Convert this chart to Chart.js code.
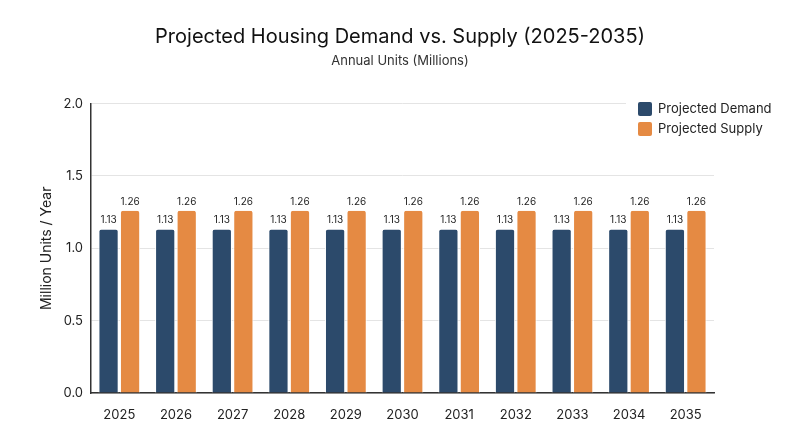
<!DOCTYPE html>
<html>
<head>
<meta charset="utf-8">
<script src="https://cdn.jsdelivr.net/npm/chart.js@4.4.1/dist/chart.umd.min.js"></script>
<style>
  html, body { margin: 0; padding: 0; background: #ffffff; }
  #wrap { width: 800px; height: 447px; }
</style>
</head>
<body>
<div id="wrap"><canvas id="housingChart"></canvas></div>
<script>
const years = ['2025', '2026', '2027', '2028', '2029', '2030', '2031', '2032', '2033', '2034', '2035'];
const demandValues = [1.13, 1.13, 1.13, 1.13, 1.13, 1.13, 1.13, 1.13, 1.13, 1.13, 1.13];
const supplyValues = [1.26, 1.26, 1.26, 1.26, 1.26, 1.26, 1.26, 1.26, 1.26, 1.26, 1.26];
const seriesNames = ['Projected Demand', 'Projected Supply'];
const seriesColors = ['#2c4a6b', '#e58a43'];

const FONT = "'Inter', 'Noto Sans', sans-serif";

/** Value labels above each bar */
const barLabels = {
  id: 'barLabels',
  afterDatasetsDraw(chart) {
    const ctx = chart.ctx;
    ctx.save();
    ctx.font = '10px ' + FONT;
    ctx.fillStyle = '#222222';
    ctx.textAlign = 'center';
    ctx.textBaseline = 'bottom';
    chart.data.datasets.forEach((ds, i) => {
      chart.getDatasetMeta(i).data.forEach((bar, j) => {
        ctx.fillText(ds.data[j].toFixed(2), bar.x, bar.y - 4);
      });
    });
    ctx.restore();
  }
};

/** Legend box drawn over the top-right of the plot */
const cornerLegend = {
  id: 'cornerLegend',
  afterDraw(chart) {
    const ctx = chart.ctx;
    const x0 = 626, y0 = 96;
    ctx.save();
    ctx.fillStyle = '#ffffff';
    ctx.fillRect(x0, y0, 170, 46);
    ctx.font = '13px ' + FONT;
    ctx.textBaseline = 'middle';
    ctx.textAlign = 'left';
    seriesNames.forEach((name, i) => {
      const by = y0 + 6 + i * 20;
      ctx.fillStyle = seriesColors[i];
      ctx.beginPath();
      ctx.roundRect(x0 + 12, by, 14, 14, 2);
      ctx.fill();
      ctx.fillStyle = '#222222';
      ctx.fillText(name, x0 + 32, by + 7.5);
    });
    ctx.restore();
  }
};

const barStyle = {
  borderColor: '#ffffff',
  borderWidth: { left: 1, right: 1 },
  borderRadius: { topLeft: 3, topRight: 3 },
  borderSkipped: 'bottom',
  categoryPercentage: 0.76,
  barPercentage: 0.94
};

new Chart(document.getElementById('housingChart'), {
  type: 'bar',
  data: {
    labels: years,
    datasets: [
      Object.assign({ label: seriesNames[0], data: demandValues, backgroundColor: seriesColors[0] }, barStyle),
      Object.assign({ label: seriesNames[1], data: supplyValues, backgroundColor: seriesColors[1] }, barStyle)
    ]
  },
  options: {
    responsive: true,
    maintainAspectRatio: false,
    animation: false,
    layout: { padding: { left: 0, right: 0, top: 0, bottom: 22 } },
    plugins: {
      legend: { display: false },
      tooltip: { enabled: false },
      title: {
        display: true,
        text: 'Projected Housing Demand vs. Supply (2025-2035)',
        color: '#111111',
        font: { family: FONT, size: 20, weight: 'normal' },
        padding: { top: 25, bottom: 4 }
      },
      subtitle: {
        display: true,
        text: 'Annual Units (Millions)',
        color: '#333333',
        font: { family: FONT, size: 13 },
        padding: { bottom: 35 }
      }
    },
    scales: {
      x: {
        grid: { display: false },
        border: { color: '#333333', width: 1.5 },
        ticks: { color: '#222222', font: { family: FONT, size: 13 }, padding: 6 },
        afterFit(scale) { scale.height = 32; }
      },
      y: {
        min: 0,
        max: 2,
        ticks: {
          stepSize: 0.5,
          color: '#222222',
          font: { family: FONT, size: 13 },
          padding: 8,
          callback: v => v.toFixed(1)
        },
        grid: { color: '#e4e4e4', drawTicks: false },
        border: { color: '#333333', width: 1.5 },
        title: {
          display: true,
          text: 'Million Units / Year',
          color: '#222222',
          font: { family: FONT, size: 14 },
          padding: { top: 38, bottom: 0 }
        },
        afterFit(scale) { scale.width = 91; }
      },
      spacer: {
        position: 'right',
        display: true,
        grid: { display: false },
        border: { display: false },
        ticks: { display: false },
        afterFit(scale) { scale.width = 86; }
      }
    }
  },
  plugins: [barLabels, cornerLegend]
});
</script>
</body>
</html>
